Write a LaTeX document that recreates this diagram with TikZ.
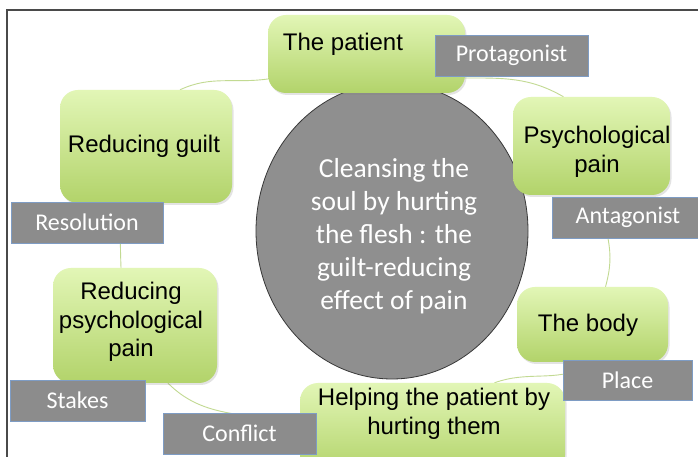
\documentclass[tikz,border=0pt]{standalone}
\usepackage{fontspec}
\setmainfont{Liberation Sans}
\newfontfamily\calib{Carlito}
\usetikzlibrary{shadows,shapes.geometric}
\definecolor{gtop}{HTML}{E2F6B6}
\definecolor{gbot}{HTML}{B2D36A}
\definecolor{tagfill}{HTML}{8C8C8C}
\definecolor{tagedge}{HTML}{7E9CC4}
\definecolor{hubfill}{HTML}{8F8F8F}
\definecolor{hubedge}{HTML}{383838}
\definecolor{linkc}{HTML}{C2DA92}
\definecolor{framec}{HTML}{4A4A4A}
\pgfdeclarelayer{bg}
\pgfdeclarelayer{paper}
\pgfsetlayers{paper,bg,main}
\begin{document}
\begin{tikzpicture}[x=1pt,y=1pt,
  gshape/.style={rectangle, rounded corners=18pt, top color=gtop, bottom color=gbot, draw=none, inner sep=0pt,
    drop shadow={opacity=0.22, shadow xshift=1.5pt, shadow yshift=-2pt}},
  tag/.style={rectangle, fill=tagfill, draw=tagedge, line width=0.6pt, text=white, inner sep=0pt,
    font=\calib\fontsize{24}{28}\selectfont,
    drop shadow={opacity=0.15, shadow xshift=1pt, shadow yshift=-1.5pt}},
  gtext/.style={font=\fontsize{24}{28.5}\selectfont, align=center, text=black, inner sep=0pt},
  link/.style={draw=linkc, line width=0.9pt}
]
\useasboundingbox (0,0) rectangle (698,457);
\clip (0,0) rectangle (698,457);
\begin{pgfonlayer}{paper}
\fill[white] (0,0) rectangle (698,457);
\end{pgfonlayer}

% frame
\coordinate (ftl) at (7,447);
\coordinate (ftr) at (698,447);
\coordinate (fbl) at (7,0);
\draw[framec, line width=1.6pt] (fbl) -- (ftl) -- (ftr);

% central ellipse
\node[ellipse, minimum width=272pt, minimum height=296pt, fill=hubfill, draw=hubedge, line width=0.8pt] (hub) at (392,226) {};
\node[font=\calib\fontsize{27.5}{33}\selectfont, text=white, align=center, inner sep=0pt] (hubtext) at (394,221)
  {Cleansing the\\soul by hurting\\the flesh : the\\guilt-reducing\\effect of pain};

% green shapes
\node[gshape, minimum width=197pt, minimum height=78pt] (patient) at (366.5,403) {};
\node[gshape, minimum width=157pt, minimum height=98pt] (psych) at (591.5,311) {};
\node[gshape, minimum width=151pt, minimum height=75pt] (body) at (592.5,132.5) {};
\node[gshape, minimum width=265pt, minimum height=90pt] (helping) at (432.5,29) {};
\node[gshape, minimum width=164pt, minimum height=115pt] (redpsych) at (135,131.5) {};
\node[gshape, minimum width=172pt, minimum height=113pt] (guilt) at (146,310.5) {};

% green texts
\node[gtext] (patientT) at (343,413) {The patient};
\node[gtext] (psychT) at (597,305) {Psychological\\pain};
\node[gtext] (bodyT) at (588,132) {The body};
\node[gtext] (helpingT) at (434,43) {Helping the patient by\\hurting them};
\node[gtext] (redpsychT) at (131,135) {Reducing\\psychological\\pain};
\node[gtext] (guiltT) at (144,311) {Reducing guilt};

% grey tags
\node[tag, minimum width=153pt, minimum height=41pt] (protag) at (511.5,401.5) {Protagonist};
\node[tag, minimum width=152pt, minimum height=41pt] (antag) at (628,239.5) {Antagonist};
\node[tag, minimum width=129pt, minimum height=40pt] (place) at (627.5,77) {Place};
\node[tag, minimum width=153pt, minimum height=41pt] (conflict) at (239.5,23.5) {Conflict};
\node[tag, minimum width=135pt, minimum height=41pt] (stakes) at (77.5,56.5) {Stakes};
\node[tag, minimum width=152pt, minimum height=41pt] (resol) at (87,234.5) {Resolution};

% connectors (behind)
\begin{pgfonlayer}{bg}
\draw[link] ([xshift=34pt]guilt.north) to[out=25,in=188] ([yshift=-25pt]patient.west);
\draw[link] ([yshift=-24pt]patient.east) to[out=0,in=150] ([xshift=-28pt]psych.north);
\draw[link] ([xshift=-20pt]antag.south) to[out=-80,in=75] ([xshift=13pt]body.north);
\draw[link] (body.south) to[out=215,in=20] ([xshift=62pt]helping.north);
\draw[link] (helping.west) to[out=160,in=-45] ([xshift=33pt]redpsych.south);
\draw[link] ([xshift=-14pt]redpsych.north) to[out=92,in=-92] ([xshift=-25pt]guilt.south);
\end{pgfonlayer}
\end{tikzpicture}
\end{document}
